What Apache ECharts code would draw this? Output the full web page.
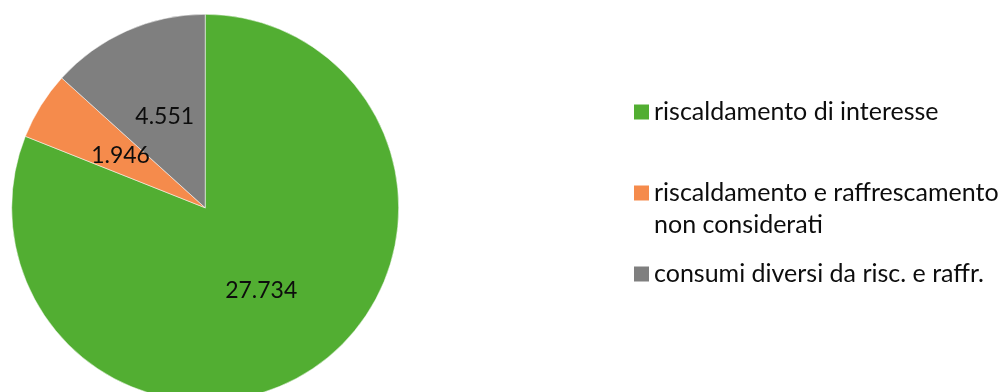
<!DOCTYPE html>
<html>
<head>
<meta charset="utf-8">
<script src="https://cdn.jsdelivr.net/npm/echarts@6/dist/echarts.min.js"></script>
<style>
  html, body { margin: 0; padding: 0; background: #ffffff; }
  #chart { width: 1003px; height: 392px; }
</style>
</head>
<body>
<div id="chart"></div>
<script>
// Ripartizione dei consumi (valori in unità intere)
const categories = [
  'riscaldamento di interesse',
  'riscaldamento e raffrescamento non considerati',
  'consumi diversi da risc. e raffr.'
];
// Etichette della legenda; la riga vuota iniziale tiene il quadratino
// allineato alla prima riga del testo su due righe
const legendLabels = [
  'riscaldamento di interesse',
  '\nriscaldamento e raffrescamento\nnon considerati',
  'consumi diversi da risc. e raffr.'
];
const values = [27734, 1946, 4551];
const colors = ['#52AE32', '#F58B4C', '#7F7F7F'];

// Separatore delle migliaia all'italiana: 27734 -> "27.734"
function fmt(v) {
  return String(Math.round(v)).replace(/\B(?=(\d{3})+(?!\d))/g, '.');
}

const FONT = 'Lato, "Open Sans", sans-serif';

const chart = echarts.init(document.getElementById('chart'), null, { renderer: 'canvas' });

chart.setOption({
  animation: false,
  color: colors,
  legend: {
    orient: 'vertical',
    left: 634,
    top: 96,
    padding: 0,
    itemGap: 17,
    itemWidth: 15,
    itemHeight: 15,
    icon: 'rect',
    selectedMode: false,
    textStyle: {
      fontFamily: FONT,
      fontSize: 25,
      lineHeight: 32,
      color: '#0d0d0d'
    },
    data: categories.map(name => ({ name, itemStyle: { borderWidth: 0 } })),
    formatter: name => legendLabels[categories.indexOf(name)]
  },
  series: [{
    type: 'pie',
    center: [205.2, 207.8],
    radius: 193.5,
    startAngle: 90,
    clockwise: true,
    avoidLabelOverlap: false,
    emphasis: { disabled: true },
    itemStyle: { borderColor: '#ffffff', borderWidth: 0.5 },
    label: {
      show: true,
      position: 'inside',
      fontFamily: FONT,
      fontSize: 23,
      color: '#0d0d0d',
      formatter: p => fmt(p.value)
    },
    labelLine: { show: false },
    data: categories.map((name, i) => ({ name, value: values[i] }))
  }]
});
</script>
</body>
</html>
